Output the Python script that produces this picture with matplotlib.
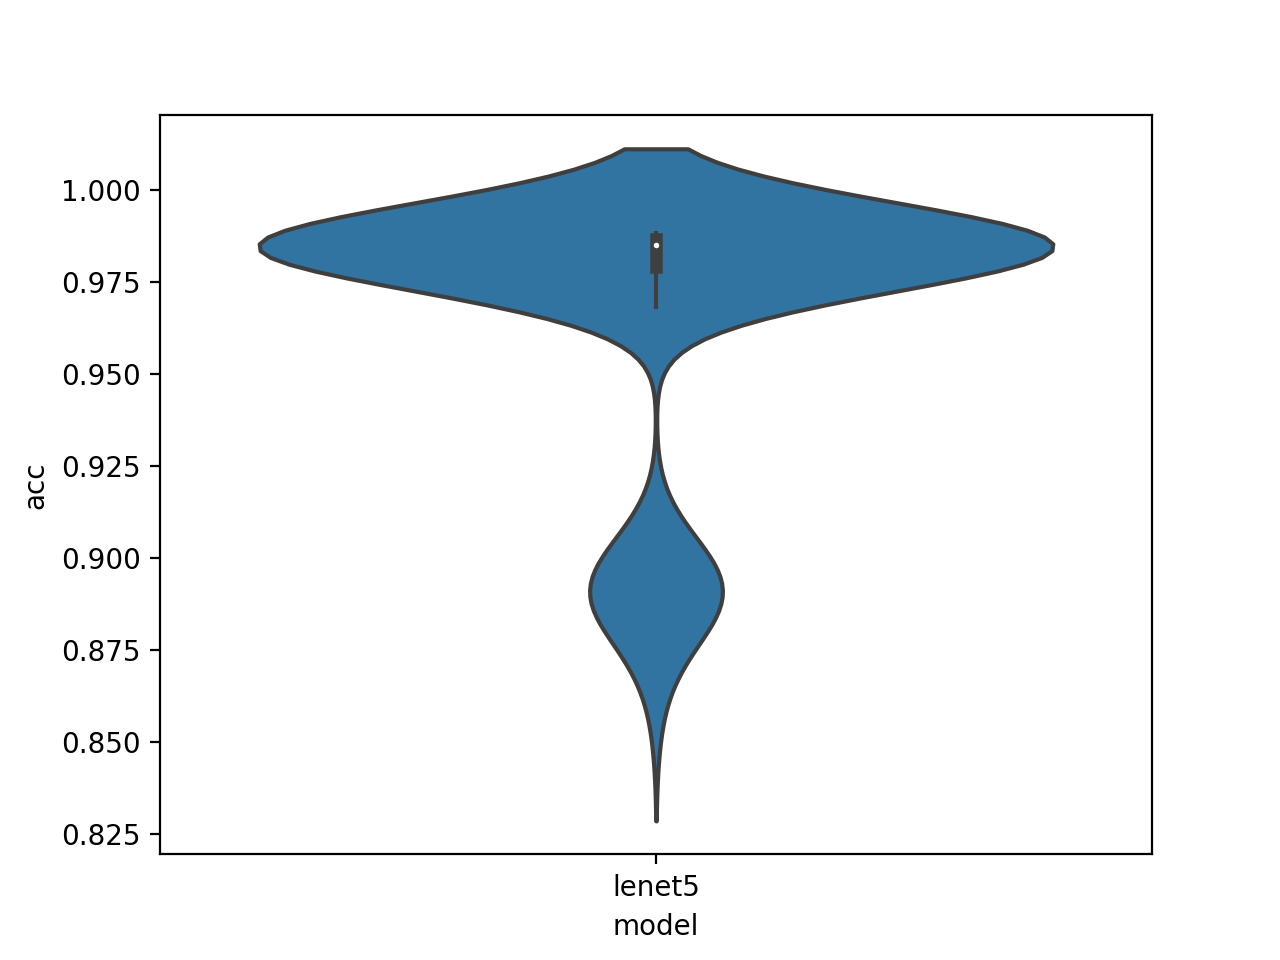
import numpy as np
import pandas as pd
import matplotlib
matplotlib.use("Agg")
import matplotlib.pyplot as plt
import seaborn as sns

MODEL = "lenet5"
SAIDA = "out.png"
CINZA = "#3f3f3f"

# runs that got stuck around 0.89 (distinct acc values and how many runs hit each)
acc_low = [0.8515, 0.864, 0.872, 0.878, 0.883, 0.887,
           0.891, 0.895, 0.899, 0.903, 0.908, 0.913]
runs_low = [1, 2, 3, 4, 6, 8, 10, 8, 6, 4, 2, 1]

# runs that converged normally
acc_high = [0.9683, 0.9705, 0.9725, 0.9745, 0.9760, 0.9775,
            0.9789, 0.9805, 0.9820, 0.9832, 0.9842, 0.9850,
            0.9856, 0.9862, 0.9864, 0.9867, 0.9872, 0.9877,
            0.9881, 0.9883]
runs_high = [1, 2, 3, 4, 5, 7,
             10, 14, 17, 18, 18, 14,
             22, 22, 19, 14, 22, 22,
             13, 8]


def montar_dados():
    valores = np.repeat(acc_low + acc_high, runs_low + runs_high)
    return pd.DataFrame({"model": MODEL, "acc": valores})


def caixa_interna(ax, dados, centro=0):
    # mini boxplot inside the violin (old seaborn look)
    q25, q50, q75 = np.percentile(dados, [25, 50, 75])
    lim = 1.5 * (q75 - q25)
    h1 = np.min(dados[dados >= (q25 - lim)])
    h2 = np.max(dados[dados <= (q75 + lim)])
    ax.plot([centro, centro], [h1, h2], linewidth=1.5, color=CINZA)
    ax.plot([centro, centro], [q25, q75], linewidth=4.5, color=CINZA)
    ax.scatter(centro, q50, zorder=3, color="white", edgecolor=CINZA, s=9)


def grafico_violino(df):
    fig, ax = plt.subplots(figsize=(6.4, 4.8))
    sns.violinplot(data=df, x="model", y="acc", inner=None,
                   linewidth=1.5, linecolor=CINZA, bw_adjust=0.975, ax=ax)
    # keep seaborn's categorical limits, the extra lines would re-autoscale x
    xlim = ax.get_xlim()
    caixa_interna(ax, df["acc"].values)
    ax.set_xlim(xlim)
    fig.savefig(SAIDA, dpi=200)
    plt.close(fig)


def main():
    df = montar_dados()
    grafico_violino(df)


if __name__ == "__main__":
    main()
